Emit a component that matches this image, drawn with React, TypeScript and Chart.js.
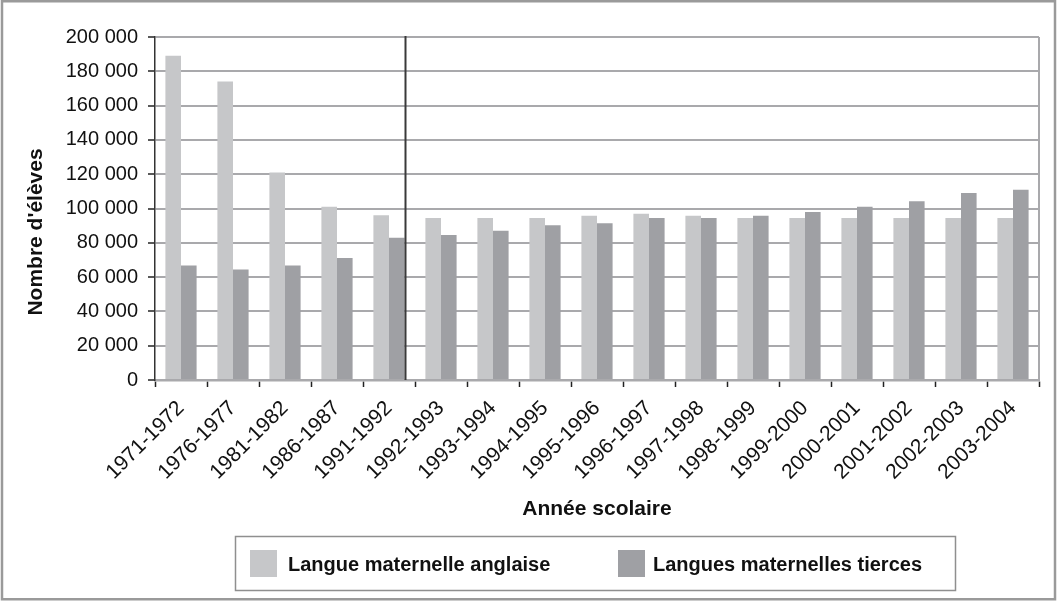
import React, { useEffect, useRef } from "react";
import { Chart, registerables } from "chart.js";

Chart.register(...registerables);

const categories = [
  "1971-1972", "1976-1977", "1981-1982", "1986-1987", "1991-1992",
  "1992-1993", "1993-1994", "1994-1995", "1995-1996", "1996-1997",
  "1997-1998", "1998-1999", "1999-2000", "2000-2001", "2001-2002",
  "2002-2003", "2003-2004",
];

const anglaise = [
  189000, 174000, 121000, 101000, 96000,
  94500, 94500, 94500, 95700, 96900,
  95700, 94500, 94500, 94500, 94500,
  94500, 94500,
];

const tierces = [
  66700, 64500, 66700, 71100, 83000,
  84600, 87000, 90300, 91400, 94500,
  94500, 95700, 97900, 101000, 104300,
  109000, 110900,
];

const seriesLabels = ["Langue maternelle anglaise", "Langues maternelles tierces"];
const yTitle = "Nombre d'élèves";
const xTitle = "Année scolaire";
const dividerAfterIndex = 4;

const LIGHT = "#c6c7c9";
const DARK = "#9fa0a4";
const GRID = "#a9a9ac";
const FONT = "'Liberation Sans', Arial, sans-serif";

const formatThousands = (v: number) =>
  String(v).replace(/\B(?=(\d{3})+(?!\d))/g, " ");

const decorPlugin = {
  id: "decor",
  afterDatasetsDraw(chart: any) {
    const { ctx, chartArea } = chart;
    ctx.save();
    ctx.strokeStyle = GRID;
    ctx.lineWidth = 2;
    ctx.beginPath();
    ctx.moveTo(chartArea.right, chartArea.top);
    ctx.lineTo(chartArea.right, chartArea.bottom);
    ctx.stroke();
    const meta = chart.getDatasetMeta(1);
    const el = meta.data[dividerAfterIndex];
    if (el) {
      const x = Math.round(el.x + el.width / 2) + 0.5;
      ctx.strokeStyle = "#3a3a3a";
      ctx.lineWidth = 2;
      ctx.beginPath();
      ctx.moveTo(x, chartArea.top - 1);
      ctx.lineTo(x, chartArea.bottom);
      ctx.stroke();
    }
    ctx.restore();
  },
  afterDraw(chart: any) {
    const { ctx, width, height } = chart;
    ctx.save();
    ctx.strokeStyle = "#9a9a9a";
    ctx.lineWidth = 2.5;
    ctx.strokeRect(2, 1.25, width - 4, height - 4);

    ctx.fillStyle = "#111";
    ctx.font = `bold 21px ${FONT}`;
    ctx.textAlign = "center";
    ctx.textBaseline = "middle";
    ctx.translate(36, 232);
    ctx.rotate(-Math.PI / 2);
    ctx.fillText(yTitle, 0, 0);
    ctx.setTransform(1, 0, 0, 1, 0, 0);

    ctx.strokeStyle = "#8f8f8f";
    ctx.lineWidth = 1.5;
    ctx.strokeRect(235.5, 536.5, 720, 54);
    const items = [
      { sx: 250, tx: 288, color: chart.data.datasets[0].backgroundColor, text: chart.data.datasets[0].label },
      { sx: 618, tx: 653, color: chart.data.datasets[1].backgroundColor, text: chart.data.datasets[1].label },
    ];
    ctx.font = `bold 20px ${FONT}`;
    ctx.textAlign = "left";
    ctx.textBaseline = "middle";
    for (const it of items) {
      ctx.fillStyle = it.color;
      ctx.fillRect(it.sx, 550, 27, 27);
      ctx.fillStyle = "#111";
      ctx.fillText(it.text, it.tx, 565);
    }
    ctx.restore();
  },
};

export default function App() {
  const ref = useRef<HTMLCanvasElement | null>(null);

  useEffect(() => {
    if (!ref.current) return;
    Chart.defaults.font.family = FONT;
    const chart = new Chart(ref.current, {
      type: "bar",
      data: {
        labels: categories,
        datasets: [
          {
            label: seriesLabels[0],
            data: anglaise,
            backgroundColor: LIGHT,
            borderWidth: 0,
            categoryPercentage: 0.6,
            barPercentage: 1,
          },
          {
            label: seriesLabels[1],
            data: tierces,
            backgroundColor: DARK,
            borderWidth: 0,
            categoryPercentage: 0.6,
            barPercentage: 1,
          },
        ],
      },
      options: {
        animation: false,
        responsive: false,
        devicePixelRatio: 1,
        layout: { padding: { left: 60, top: 37, right: 18, bottom: 77 } },
        plugins: {
          legend: { display: false },
          tooltip: { enabled: false },
        },
        scales: {
          x: {
            offset: true,
            grid: {
              offset: true,
              drawOnChartArea: false,
              drawTicks: true,
              tickLength: 7,
              tickColor: "#222",
              tickWidth: 1.5,
            },
            border: { color: GRID, width: 2.5 },
            ticks: {
              autoSkip: false,
              minRotation: 45,
              maxRotation: 45,
              padding: 9,
              color: "#111",
              font: { size: 21, family: FONT },
            },
            title: {
              display: true,
              text: xTitle,
              color: "#111",
              font: { size: 21, weight: "bold", family: FONT },
              padding: { top: 4, bottom: 3 },
            },
            afterFit: (s: any) => {
              s.height = 145;
            },
          },
          y: {
            min: 0,
            max: 200000,
            grid: {
              color: GRID,
              lineWidth: 2,
              drawTicks: true,
              tickLength: 7,
              tickColor: "#222",
              tickWidth: 1.5,
            },
            border: { color: "#333", width: 1.5 },
            ticks: {
              stepSize: 20000,
              padding: 10,
              color: "#111",
              font: { size: 20, family: FONT },
              callback: (v: any) => formatThousands(Number(v)),
            },
            afterFit: (s: any) => {
              s.width = 95;
            },
          },
        },
      },
      plugins: [decorPlugin],
    });
    return () => chart.destroy();
  }, []);

  return (
    <div style={{ position: "absolute", left: 0, top: 0, width: 1057, height: 602, background: "#fff" }}>
      <canvas ref={ref} width={1057} height={602} style={{ display: "block" }} />
    </div>
  );
}
